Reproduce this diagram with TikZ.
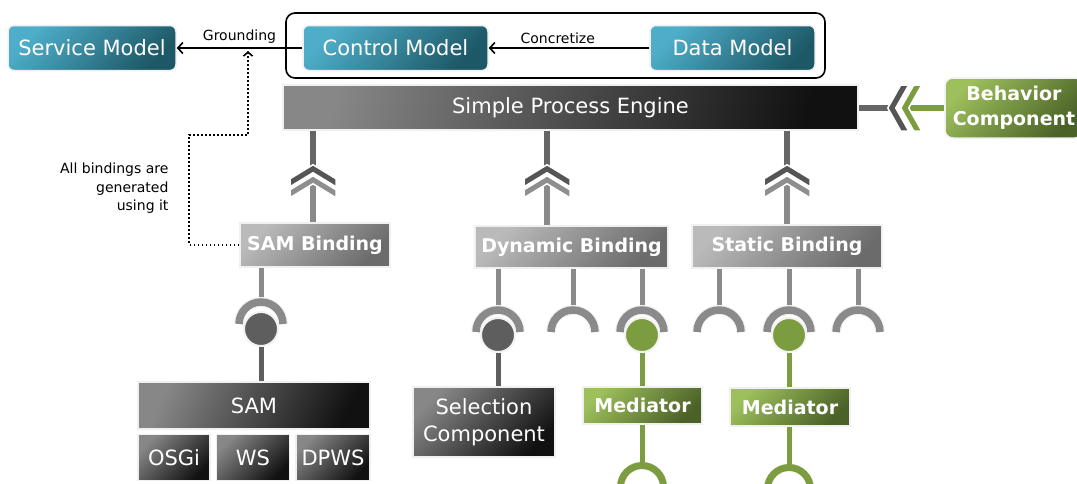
\documentclass[tikz,border=0pt]{standalone}
\usepackage{fontspec}
\setmainfont{DejaVu Sans}
\usepackage{tikz}
\usetikzlibrary{positioning,arrows.meta,calc,fit}
\definecolor{tealLite}{HTML}{4EAECA}
\definecolor{tealDark}{HTML}{1D5866}
\definecolor{greyTop}{HTML}{878787}
\definecolor{greyDark}{HTML}{111111}
\definecolor{greyLite}{HTML}{BABABA}
\definecolor{greyMid}{HTML}{6B6B6B}
\definecolor{greenLite}{HTML}{9DBF5C}
\definecolor{greenDark}{HTML}{4A6127}
\definecolor{greenBall}{HTML}{7C9C40}
\definecolor{pipeDark}{HTML}{666666}
\definecolor{pipeLite}{HTML}{8A8A8A}
\definecolor{chevDark}{HTML}{555555}
\definecolor{chevLite}{HTML}{8E8E8E}
\definecolor{ballGrey}{HTML}{5E5E5E}
\newcommand{\regsize}{\fontsize{21}{27}\selectfont}
\newcommand{\boldsize}{\fontsize{19}{25}\selectfont\bfseries}
\newcommand{\notesize}{\fontsize{14}{18.5}\selectfont}
\tikzset{
  box/.style={draw=black!6,line width=1.5pt,text=white,inner sep=0pt,align=center,font=\regsize},
  tealbox/.style={box,rounded corners=6pt,top color=tealLite,bottom color=tealDark,shading angle=45},
  darkbox/.style={box,top color=greyTop,bottom color=greyDark,shading angle=45},
  bindbox/.style={box,top color=greyLite,bottom color=greyMid,shading angle=45,font=\boldsize},
  greenbox/.style={box,top color=greenLite,bottom color=greenDark,shading angle=45,font=\boldsize},
  link/.style={line width=1.6pt,-{Straight Barb[length=5pt,width=11pt]}},
  hint/.style={line width=1.6pt,dash pattern=on 1.6pt off 2.4pt,-{Straight Barb[length=4pt,width=9pt]}},
  pipe/.style={line width=6pt},
  chev/.style={draw=white,line width=1.5pt,line join=miter},
  socket/.style={draw=pipeLite,line width=7.5pt,preaction={draw=black!5,line width=10pt}},
  ball/.style={circle,inner sep=0pt,minimum size=34pt,draw=black!5,line width=2pt},
  ring/.style={circle,inner sep=0pt,minimum size=43pt,draw=greenBall,line width=7pt},
  note/.style={font=\notesize,align=right}
}
\begin{document}
\begin{tikzpicture}[x=1pt,y=-1pt]
\useasboundingbox (0,0) rectangle (1077,483);

\node[tealbox,minimum width=168pt,minimum height=45pt] (svc) at (92,48) {Service Model};
\node[tealbox,minimum width=185pt,minimum height=45pt] (ctrl) at (395.5,48) {Control Model};
\node[tealbox,minimum width=165pt,minimum height=45pt] (data) at (732.5,48) {Data Model};
\node[fit={(286,13) (825,78)},inner sep=0pt,draw,line width=1.6pt,rounded corners=9pt] (models) {};
\draw[link] (data) -- node[above,pos=.57,font=\notesize]{Concretize} (ctrl);
\draw[link] (ctrl) -- node[above,font=\notesize]{Grounding} (svc);
\coordinate (gnd) at (248,51);

\node[darkbox,shading angle=75,minimum width=575pt,minimum height=45pt] (eng) at (570.5,107.5) {Simple Process Engine};
\node[greenbox,rounded corners=8pt,minimum width=138pt,minimum height=60pt] (beh) at (1014,108) {Behavior\\Component};
\draw[pipe,pipeDark] (eng.east) -- ++(32,0);
\draw[pipe,greenBall] (beh.west) -- ++(-40,0);
\filldraw[chev,fill=chevDark] ($(eng.east)+(29,0.5)$) -- ++(13,-23) -- ++(8,0) -- ++(-13,23)
  -- ++(13,23) -- ++(-8,0) -- cycle;
\filldraw[chev,fill=greenBall] ($(eng.east)+(42,0.5)$) -- ++(13,-23) -- ++(8,0) -- ++(-13,23)
  -- ++(13,23) -- ++(-8,0) -- cycle;

\node[bindbox,minimum width=150pt,minimum height=44pt] (sambind) at (315,245) {SAM Binding};
\node[bindbox,minimum width=193pt,minimum height=42pt] (dynbind) at (571.5,247) {Dynamic Binding};
\node[bindbox,minimum width=190pt,minimum height=43pt] (statbind) at (787,246.5) {Static Binding};

\foreach \b/\dx in {sambind/-2,dynbind/-24.5,statbind/0}{
  \coordinate (j) at ([xshift=\dx pt]\b.north);
  \draw[pipe,pipeDark] (j |- eng.south) -- ++(0,36);
  \draw[pipe,pipeLite] (j) -- ++(0,-45);
  \filldraw[chev,fill=chevDark] (j |- eng.south) ++(0,34) -- ++(23,14) -- ++(0,8) -- ++(-23,-14)
    -- ++(-23,14) -- ++(0,-8) -- cycle;
  \filldraw[chev,fill=chevLite] (j |- eng.south) ++(0,45) -- ++(23,14) -- ++(0,8) -- ++(-23,-14)
    -- ++(-23,14) -- ++(0,-8) -- cycle;
}

\foreach \b/\x/\y in {sambind/261/324,dynbind/498/332,dynbind/573/332,dynbind/642/332,
                      statbind/719/332,statbind/789/332,statbind/858/332}{
  \coordinate (s) at (\x,\y);
  \draw[pipeLite,line width=5pt] (s |- \b.south) -- ($(s)+(0,-22)$);
  \draw[socket] ($(s)+(-22,0)$) arc[start angle=180,end angle=360,radius=22];
}

\node[ball,fill=ballGrey] (b1) at (261,329) {};
\node[ball,fill=ballGrey] (b2) at (498,335) {};
\node[ball,fill=greenBall] (b3) at (642,335) {};
\node[ball,fill=greenBall] (b4) at (789,335) {};

\node[darkbox,shading angle=65,minimum width=232pt,minimum height=47pt] (sam) at (254,405.5) {SAM};
\node[darkbox,minimum width=72pt,minimum height=46pt,below=4pt of sam.south west,anchor=north west] (osgi) {OSGi};
\node[darkbox,minimum width=73pt,minimum height=46pt,right=5pt of osgi] (ws) {WS};
\node[darkbox,minimum width=74pt,minimum height=46pt,right=5pt of ws] (dpws) {DPWS};
\node[darkbox,minimum width=142pt,minimum height=70pt] (sel) at (484,422) {Selection\\Component};
\node[greenbox,minimum width=119pt,minimum height=37pt] (med1) at (642.5,405.5) {Mediator};
\node[greenbox,minimum width=120pt,minimum height=38pt] (med2) at (790,407) {Mediator};
\node[ring] (r1) at (642,487) {};
\node[ring] (r2) at (789,489) {};

\draw[pipe,ballGrey,line width=5pt] (b1) -- (b1 |- sam.north);
\draw[pipe,ballGrey,line width=5pt] (b2) -- (b2 |- sel.north);
\draw[pipe,greenBall,line width=5pt] (b3) -- (b3 |- med1.north);
\draw[pipe,greenBall,line width=5pt] (b4) -- (b4 |- med2.north);
\draw[pipe,greenBall,line width=5pt] (med1.south -| r1) -- (r1);
\draw[pipe,greenBall,line width=5pt] (med2.south -| r2) -- (r2);

\node[note,anchor=east] (note) at (172,188.5) {All bindings are\\generated\\using it};
\draw[hint] (sambind.west) -- ++(-50,0) |- ($(gnd)+(0,84)$) -- (gnd);
\end{tikzpicture}
\end{document}
